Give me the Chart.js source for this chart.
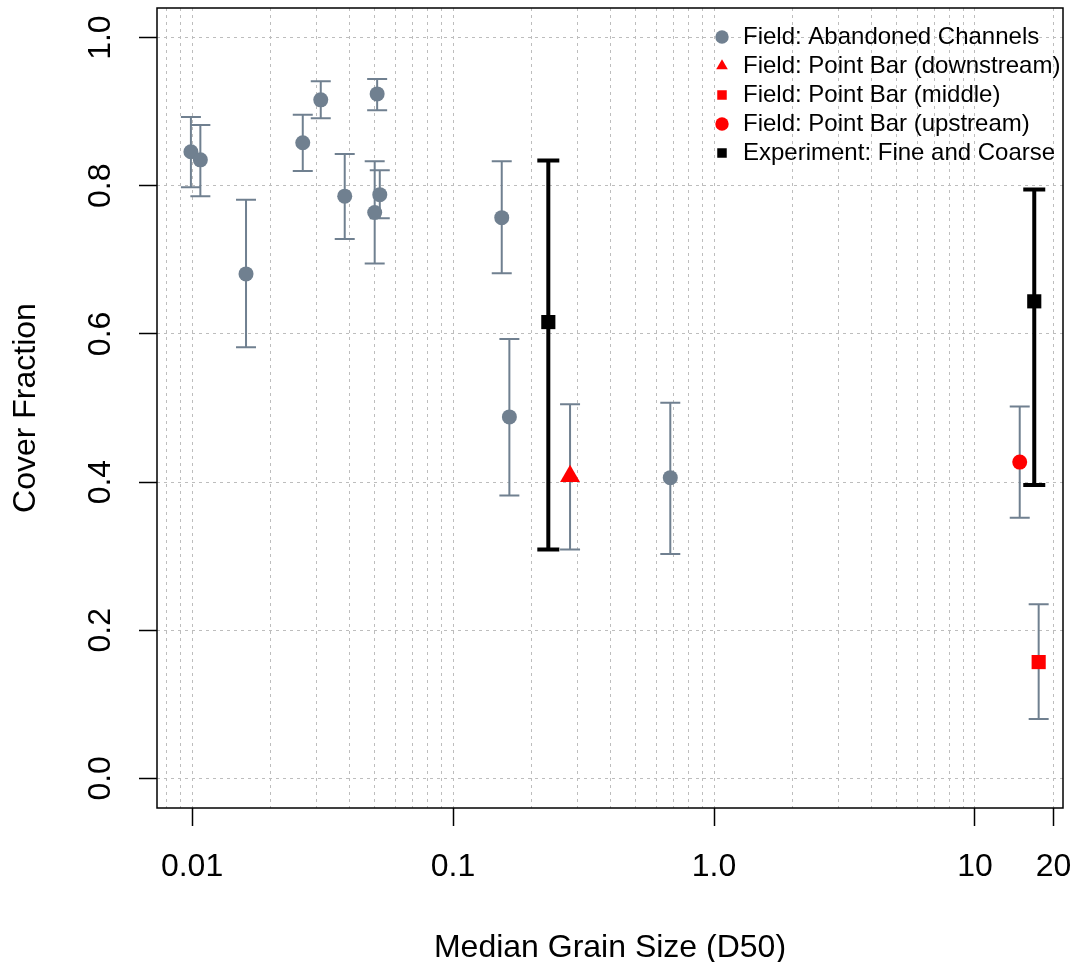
<!DOCTYPE html>
<html>
<head>
<meta charset="utf-8">
<title>Cover Fraction vs Median Grain Size</title>
<script src="https://cdn.jsdelivr.net/npm/chart.js@4.4.1/dist/chart.umd.min.js"></script>
<style>
  html, body { margin: 0; padding: 0; background: #fff; }
  #wrap { width: 1077px; height: 962px; }
</style>
</head>
<body>
<div id="wrap"><canvas id="chart" width="1077" height="962"></canvas></div>
<script>
  // ---- data ----

  // Field: Abandoned Channels
  var chD50   = [0.0099, 0.01076, 0.0161, 0.02656, 0.03113, 0.03846, 0.0501, 0.0512, 0.0524, 0.1537, 0.1644, 0.680];
  var chCover = [0.846, 0.835, 0.681, 0.858, 0.916, 0.786, 0.764, 0.924, 0.788, 0.757, 0.488, 0.406];
  var chLow   = [0.798, 0.786, 0.582, 0.820, 0.891, 0.728, 0.695, 0.902, 0.756, 0.682, 0.382, 0.303];
  var chHigh  = [0.893, 0.882, 0.781, 0.896, 0.941, 0.843, 0.833, 0.944, 0.821, 0.833, 0.593, 0.507];

  // Field: Point Bar (downstream / middle / upstream)
  var pbDownD50 = [0.2808], pbDownCover = [0.408], pbDownLow = [0.309], pbDownHigh = [0.505];
  var pbMidD50  = [17.54],  pbMidCover  = [0.157], pbMidLow  = [0.080], pbMidHigh  = [0.235];
  var pbUpD50   = [14.84],  pbUpCover   = [0.427], pbUpLow   = [0.352], pbUpHigh   = [0.502];

  // Experiment: Fine and Coarse
  var expD50   = [0.2318, 16.87];
  var expCover = [0.616, 0.644];
  var expLow   = [0.309, 0.396];
  var expHigh  = [0.834, 0.795];

  // axis ticks
  var xGridValues = [0.008, 0.009,
    0.01, 0.02, 0.03, 0.04, 0.05, 0.06, 0.07, 0.08, 0.09,
    0.1, 0.2, 0.3, 0.4, 0.5, 0.6, 0.7, 0.8, 0.9,
    1, 2, 3, 4, 5, 6, 7, 8, 9,
    10, 20];
  var xTickValues = [0.01, 0.1, 1, 10, 20];
  var xTickLabels = ['0.01', '0.1', '1.0', '10', '20'];
  var yTickValues = [0, 0.2, 0.4, 0.6, 0.8, 1.0];

  var GREY = '#708090';
  var RED = '#ff0000';
  var BLACK = '#000000';
  var FONT = "'Liberation Sans', Arial, sans-serif";

  function points(xs, ys) {
    return xs.map(function (x, i) { return { x: x, y: ys[i] }; });
  }

  function majorIndex(v) {
    for (var i = 0; i < xTickValues.length; i++) {
      if (Math.abs(v - xTickValues[i]) < xTickValues[i] * 1e-6) return i;
    }
    return -1;
  }

  function noScalePadding(scale) {
    scale.paddingLeft = 0;
    scale.paddingRight = 0;
    scale.paddingTop = 0;
    scale.paddingBottom = 0;
  }

  // vertical error bars with caps, drawn under the points
  var errorBars = {
    id: 'errorBars',
    beforeDatasetsDraw: function (chart) {
      var ctx = chart.ctx, xs = chart.scales.x, ys = chart.scales.y;
      chart.data.datasets.forEach(function (ds) {
        ctx.save();
        ctx.strokeStyle = ds.errColor;
        ctx.lineWidth = ds.errWidth;
        ds.data.forEach(function (p, i) {
          var px = xs.getPixelForValue(p.x);
          var top = ys.getPixelForValue(ds.errHigh[i]);
          var bot = ys.getPixelForValue(ds.errLow[i]);
          ctx.beginPath();
          ctx.moveTo(px, top); ctx.lineTo(px, bot);
          ctx.moveTo(px - ds.capHalf, top); ctx.lineTo(px + ds.capHalf, top);
          ctx.moveTo(px - ds.capHalf, bot); ctx.lineTo(px + ds.capHalf, bot);
          ctx.stroke();
        });
        ctx.restore();
      });
    }
  };

  // box round the plotting region
  var frame = {
    id: 'frame',
    afterDraw: function (chart) {
      var a = chart.chartArea, ctx = chart.ctx;
      ctx.save();
      ctx.strokeStyle = BLACK;
      ctx.lineWidth = 1.5;
      ctx.strokeRect(a.left, a.top, a.right - a.left, a.bottom - a.top);
      ctx.restore();
    }
  };

  // move the in-plot legend to the top right corner
  var legendSpot = {
    id: 'legendSpot',
    afterLayout: function (chart) {
      var lg = chart.legend, a = chart.chartArea;
      if (!lg) return;
      lg.left = a.right - 355;
      lg.right = a.right;
      lg.top = a.top + 12;
      lg.bottom = a.top + 220;
    }
  };

  new Chart(document.getElementById('chart').getContext('2d'), {
    type: 'scatter',
    data: {
      datasets: [
        {
          label: 'Field: Abandoned Channels',
          data: points(chD50, chCover),
          errLow: chLow, errHigh: chHigh, errColor: GREY, errWidth: 2, capHalf: 10,
          pointStyle: 'circle', pointRadius: 7.5,
          backgroundColor: GREY, borderColor: GREY, borderWidth: 0
        },
        {
          label: 'Field: Point Bar (downstream)',
          data: points(pbDownD50, pbDownCover),
          errLow: pbDownLow, errHigh: pbDownHigh, errColor: GREY, errWidth: 2, capHalf: 10,
          pointStyle: 'triangle', pointRadius: 11.5,
          backgroundColor: RED, borderColor: RED, borderWidth: 0
        },
        {
          label: 'Field: Point Bar (middle)',
          data: points(pbMidD50, pbMidCover),
          errLow: pbMidLow, errHigh: pbMidHigh, errColor: GREY, errWidth: 2, capHalf: 10,
          pointStyle: 'rect', pointRadius: 10,
          backgroundColor: RED, borderColor: RED, borderWidth: 0
        },
        {
          label: 'Field: Point Bar (upstream)',
          data: points(pbUpD50, pbUpCover),
          errLow: pbUpLow, errHigh: pbUpHigh, errColor: GREY, errWidth: 2, capHalf: 10,
          pointStyle: 'circle', pointRadius: 7.5,
          backgroundColor: RED, borderColor: RED, borderWidth: 0
        },
        {
          label: 'Experiment: Fine and Coarse',
          data: points(expD50, expCover),
          errLow: expLow, errHigh: expHigh, errColor: BLACK, errWidth: 4, capHalf: 11,
          pointStyle: 'rect', pointRadius: 10,
          backgroundColor: BLACK, borderColor: BLACK, borderWidth: 0
        }
      ]
    },
    options: {
      responsive: false,
      animation: false,
      devicePixelRatio: 1,
      events: [],
      layout: { autoPadding: false, padding: { left: 0, top: 8, right: 14, bottom: 0 } },
      plugins: {
        tooltip: { enabled: false },
        legend: {
          display: true,
          position: 'chartArea',
          align: 'start',
          labels: {
            usePointStyle: true,
            boxWidth: 18,
            boxHeight: 9.5,
            padding: 5,
            color: BLACK,
            font: { family: FONT, size: 24 }
          }
        }
      },
      scales: {
        x: {
          type: 'logarithmic',
          position: 'bottom',
          min: 0.00734,
          max: 21.74,
          bounds: 'data',
          afterBuildTicks: function (scale) {
            scale.ticks = xGridValues.map(function (v) { return { value: v }; });
          },
          afterFit: function (scale) {
            scale.height = 154;
            noScalePadding(scale);
          },
          ticks: {
            autoSkip: false,
            maxRotation: 0,
            minRotation: 0,
            padding: 22,
            color: BLACK,
            font: { family: FONT, size: 32 },
            callback: function (value) {
              var k = majorIndex(value);
              return k >= 0 ? xTickLabels[k] : '';
            }
          },
          grid: {
            color: '#bdbdbd',
            lineWidth: 1,
            tickLength: 18,
            tickWidth: 1.5,
            tickColor: function (c) {
              return c.tick && majorIndex(c.tick.value) >= 0 ? BLACK : 'rgba(0,0,0,0)';
            }
          },
          border: { display: false, dash: [3, 4] },
          title: {
            display: true,
            text: 'Median Grain Size (D50)',
            color: BLACK,
            font: { family: FONT, size: 32, lineHeight: 0.875 },
            padding: { top: 0, bottom: 0 }
          }
        },
        y: {
          type: 'linear',
          position: 'left',
          min: -0.04,
          max: 1.04,
          bounds: 'data',
          afterBuildTicks: function (scale) {
            scale.ticks = yTickValues.map(function (v) { return { value: v }; });
          },
          afterFit: function (scale) {
            scale.width = 157;
            noScalePadding(scale);
          },
          ticks: {
            autoSkip: false,
            minRotation: 90,
            maxRotation: 90,
            crossAlign: 'center',
            padding: 16,
            color: BLACK,
            font: { family: FONT, size: 32 },
            callback: function (value) { return value.toFixed(1); }
          },
          grid: {
            color: '#bdbdbd',
            lineWidth: 1,
            tickLength: 18,
            tickWidth: 1.5,
            tickColor: BLACK
          },
          border: { display: false, dash: [3, 4] },
          title: {
            display: true,
            text: 'Cover Fraction',
            color: BLACK,
            font: { family: FONT, size: 32, lineHeight: 0.875 },
            padding: { top: 12, bottom: 0 }
          }
        }
      }
    },
    plugins: [errorBars, frame, legendSpot]
  });
</script>
</body>
</html>
